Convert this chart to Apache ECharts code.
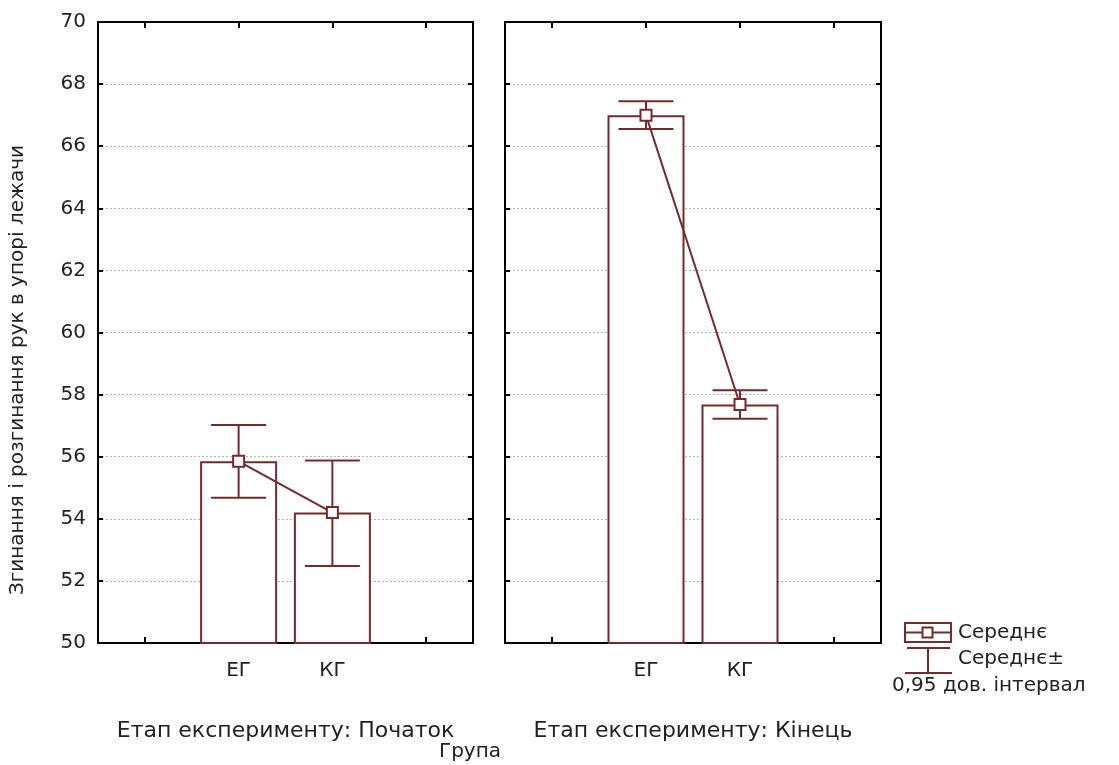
<!DOCTYPE html>
<html>
<head>
<meta charset="utf-8">
<script src="https://cdn.jsdelivr.net/npm/echarts@6/dist/echarts.min.js"></script>
<style>
html,body{margin:0;padding:0;background:#fff;}
#chart{width:1119px;height:765px;}
</style>
</head>
<body>
<div id="chart"></div>
<script>
// ---- data ----
const categories = ['', 'ЕГ', 'КГ', ''];
const stageNames = ['Етап експерименту: Початок', 'Етап експерименту: Кінець'];
const yTitle = 'Згинання і розгинання рук в упорі лежачи';
const xTitle = 'Група';
const legendMean = 'Середнє';
const legendCI1 = 'Середнє±';
const legendCI2 = '0,95 дов. інтервал';

const meanStart = [null, 55.85, 54.2, null];
const lowStart  = [null, 54.68, 52.48, null];
const highStart = [null, 57.02, 55.88, null];

const meanEnd = [null, 67.0, 57.68, null];
const lowEnd  = [null, 66.55, 57.22, null];
const highEnd = [null, 67.45, 58.14, null];

const yMin = 50, yMax = 70, yStep = 2;

// ---- style ----
const MAROON = '#752a2e';
const FONT = 'DejaVu Sans';
const TXT = '#222222';

const chart = echarts.init(document.getElementById('chart'), null, {renderer: 'canvas'});

const grids = [
  {left: 98, top: 22, width: 375, height: 621},
  {left: 505, top: 22, width: 376, height: 621}
];

function xAxes(gi) {
  return [
    {
      type: 'category', gridIndex: gi, data: categories, position: 'bottom',
      boundaryGap: true,
      axisLine: {show: true, lineStyle: {color: '#000', width: 2}},
      axisTick: {show: true, inside: true, length: 6, alignWithLabel: true, interval: 0, lineStyle: {color: '#000', width: 2}},
      axisLabel: {show: true, interval: 0, margin: 18, fontFamily: FONT, fontSize: 20, color: TXT},
      splitLine: {show: false},
      name: stageNames[gi], nameLocation: 'middle', nameGap: 77,
      nameTextStyle: {fontFamily: FONT, fontSize: 22, color: TXT}
    },
    {
      type: 'category', gridIndex: gi, data: categories, position: 'top',
      boundaryGap: true,
      axisLine: {show: true, lineStyle: {color: '#000', width: 2}},
      axisTick: {show: true, inside: true, length: 6, alignWithLabel: true, interval: 0, lineStyle: {color: '#000', width: 2}},
      axisLabel: {show: false},
      splitLine: {show: false}
    }
  ];
}

function yAxes(gi) {
  return [
    {
      type: 'value', gridIndex: gi, position: 'left', min: yMin, max: yMax, interval: yStep,
      axisLine: {show: true, lineStyle: {color: '#000', width: 2}},
      axisTick: {show: true, inside: true, length: 5, lineStyle: {color: '#000', width: 2}},
      axisLabel: {show: gi === 0, margin: 12, fontFamily: FONT, fontSize: 20, color: TXT},
      splitLine: {show: true, showMinLine: false, showMaxLine: false, lineStyle: {color: '#b4b4b4', type: [2, 2], width: 1}}
    },
    {
      type: 'value', gridIndex: gi, position: 'right', min: yMin, max: yMax, interval: yStep,
      axisLine: {show: true, lineStyle: {color: '#000', width: 2}},
      axisTick: {show: true, inside: true, length: 5, lineStyle: {color: '#000', width: 2}},
      axisLabel: {show: false},
      splitLine: {show: false}
    }
  ];
}

function errorData(low, high) {
  const d = [];
  for (let i = 0; i < categories.length; i++) {
    if (low[i] != null) d.push([i, low[i], high[i]]);
  }
  return d;
}

function errorRender(params, api) {
  const x = api.value(0);
  const lo = api.coord([x, api.value(1)]);
  const hi = api.coord([x, api.value(2)]);
  const half = 27.5;
  const st = {stroke: MAROON, lineWidth: 2, fill: null};
  return {
    type: 'group',
    children: [
      {type: 'line', shape: {x1: hi[0], y1: hi[1], x2: lo[0], y2: lo[1]}, style: st},
      {type: 'line', shape: {x1: hi[0] - half, y1: hi[1], x2: hi[0] + half, y2: hi[1]}, style: st},
      {type: 'line', shape: {x1: lo[0] - half, y1: lo[1], x2: lo[0] + half, y2: lo[1]}, style: st}
    ]
  };
}

function panelSeries(gi, mean, low, high) {
  const xi = gi * 2, yi = gi * 2;
  return [
    {
      type: 'bar', xAxisIndex: xi, yAxisIndex: yi, data: mean, barWidth: 77,
      clip: true, z: 2,
      itemStyle: {color: '#ffffff', borderColor: MAROON, borderWidth: 2},
      emphasis: {disabled: true}, silent: true
    },
    {
      type: 'custom', xAxisIndex: xi, yAxisIndex: yi, data: errorData(low, high),
      renderItem: errorRender, z: 3, silent: true
    },
    {
      type: 'line', xAxisIndex: xi, yAxisIndex: yi, data: mean, z: 4,
      symbol: 'rect', symbolSize: 11, showSymbol: true, connectNulls: false,
      lineStyle: {color: MAROON, width: 2},
      itemStyle: {color: '#ffffff', borderColor: MAROON, borderWidth: 2},
      emphasis: {disabled: true}, silent: true, animation: false
    }
  ];
}

const option = {
  animation: false,
  backgroundColor: '#ffffff',
  grid: grids,
  xAxis: [].concat(xAxes(0), xAxes(1)),
  yAxis: [].concat(yAxes(0), yAxes(1)),
  series: [].concat(
    panelSeries(0, meanStart, lowStart, highStart),
    panelSeries(1, meanEnd, lowEnd, highEnd)
  ),
  graphic: [
    {
      type: 'text', x: 18, y: 370, rotation: Math.PI / 2,
      style: {text: yTitle, font: '20px "DejaVu Sans"', fill: TXT, align: 'center', verticalAlign: 'middle'}
    },
    {
      type: 'text', x: 470, y: 752,
      style: {text: xTitle, font: '20px "DejaVu Sans"', fill: TXT, align: 'center', verticalAlign: 'middle'}
    },
    // legend
    {type: 'rect', shape: {x: 905, y: 623, width: 46, height: 19}, style: {fill: '#fff', stroke: MAROON, lineWidth: 2}},
    {type: 'line', shape: {x1: 905, y1: 632.5, x2: 951, y2: 632.5}, style: {stroke: MAROON, lineWidth: 2}},
    {type: 'rect', shape: {x: 922.5, y: 627.5, width: 10, height: 10}, style: {fill: '#fff', stroke: MAROON, lineWidth: 2}},
    {type: 'line', shape: {x1: 907, y1: 648, x2: 950, y2: 648}, style: {stroke: MAROON, lineWidth: 2}},
    {type: 'line', shape: {x1: 928, y1: 648, x2: 928, y2: 673}, style: {stroke: MAROON, lineWidth: 2}},
    {type: 'line', shape: {x1: 905, y1: 673, x2: 952, y2: 673}, style: {stroke: MAROON, lineWidth: 2}},
    {type: 'text', x: 958, y: 633, style: {text: legendMean, font: '20px "DejaVu Sans"', fill: TXT, align: 'left', verticalAlign: 'middle'}},
    {type: 'text', x: 958, y: 659, style: {text: legendCI1, font: '20px "DejaVu Sans"', fill: TXT, align: 'left', verticalAlign: 'middle'}},
    {type: 'text', x: 892, y: 686, style: {text: legendCI2, font: '20px "DejaVu Sans"', fill: TXT, align: 'left', verticalAlign: 'middle'}}
  ]
};

chart.setOption(option);
</script>
</body>
</html>
